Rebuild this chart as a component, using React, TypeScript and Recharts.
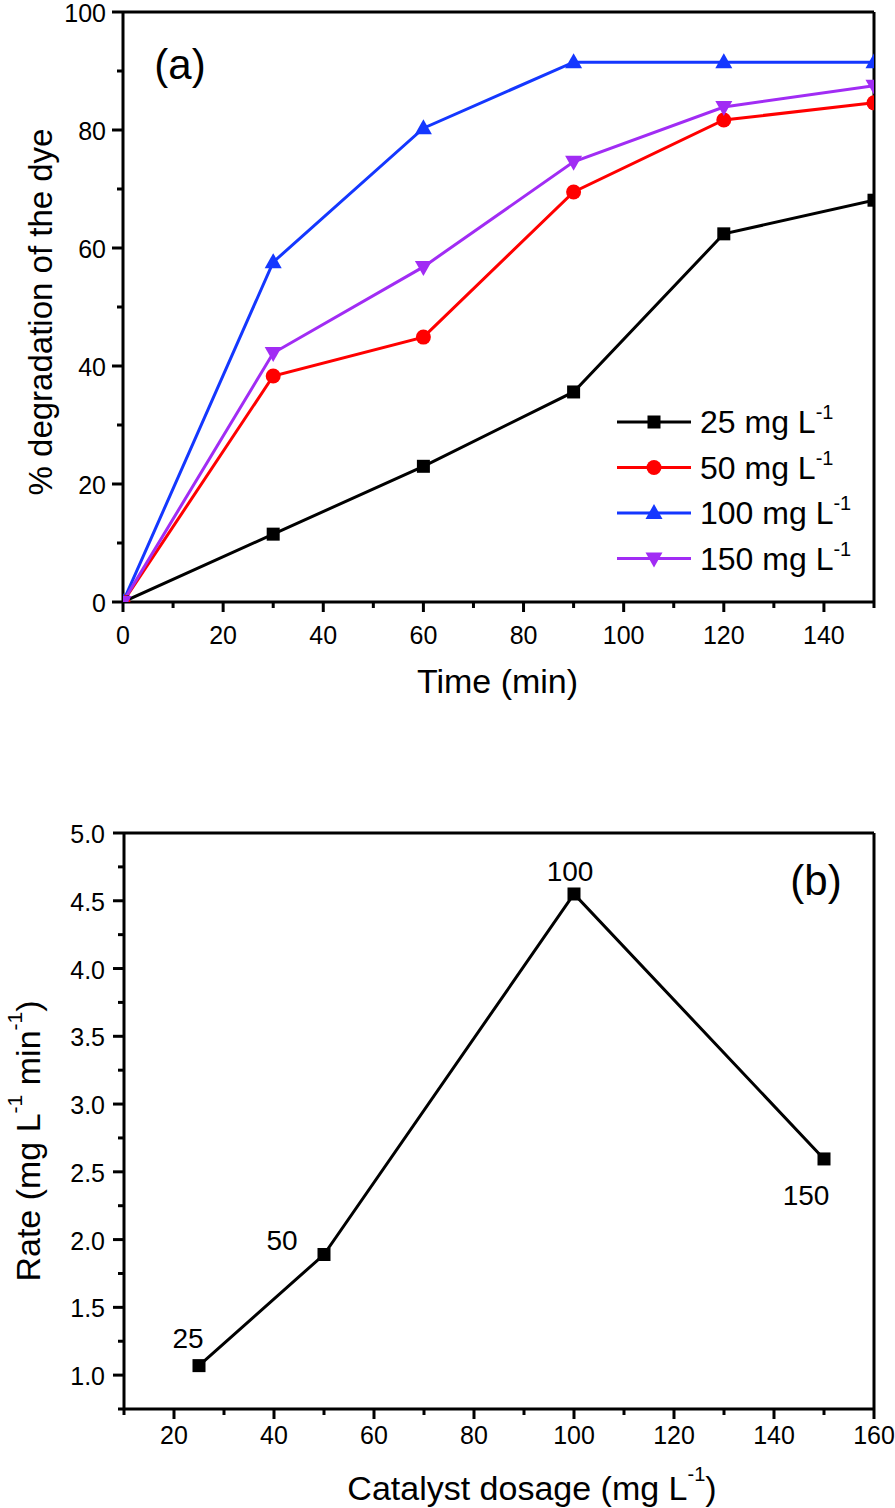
import React from 'react';
import { LineChart, Line, XAxis, YAxis, ReferenceLine, Legend, LabelList, Label } from 'recharts';

// ---------- Data: panel (a) ----------
const timeMin = [0, 30, 60, 90, 120, 150];
const deg25 = [0, 11.5, 23.0, 35.6, 62.4, 68.1];
const deg50 = [0, 38.3, 44.9, 69.5, 81.7, 84.6];
const deg100 = [0, 57.6, 80.3, 91.5, 91.5, 91.5];
const deg150 = [0, 42.2, 56.8, 74.6, 83.9, 87.5];
const seriesLabels = ['25', '50', '100', '150'];

const xMajorA = [0, 20, 40, 60, 80, 100, 120, 140];
const xMinorA = [10, 30, 50, 70, 90, 110, 130, 150];
const yMajorA = [0, 20, 40, 60, 80, 100];
const yMinorA = [10, 30, 50, 70, 90];

// ---------- Data: panel (b) ----------
const dosage = [25, 50, 100, 150];
const rate = [1.07, 1.89, 4.55, 2.595];
const xMajorB = [20, 40, 60, 80, 100, 120, 140, 160];
const xMinorB = [10, 30, 50, 70, 90, 110, 130, 150];
const yMajorB = [1.0, 1.5, 2.0, 2.5, 3.0, 3.5, 4.0, 4.5, 5.0];
const yMinorB = [0.75, 1.25, 1.75, 2.25, 2.75, 3.25, 3.75, 4.25, 4.75];

// ---------- Styles ----------
const FONT = '"Liberation Sans", Arial, Helvetica, sans-serif';
const AX = 3;
const LW = 3;

const seriesA = [
  { key: 'c25', label: seriesLabels[0], values: deg25, color: '#000000', shape: 'square' },
  { key: 'c50', label: seriesLabels[1], values: deg50, color: '#ff0000', shape: 'circle' },
  { key: 'c100', label: seriesLabels[2], values: deg100, color: '#1437ff', shape: 'triangle' },
  { key: 'c150', label: seriesLabels[3], values: deg150, color: '#a12cf4', shape: 'triangleDown' },
];

const rowsA = timeMin.map((t, i) => {
  const row: any = { t };
  seriesA.forEach((s) => (row[s.key] = s.values[i]));
  return row;
});

const rowsB = dosage.map((d, i) => ({ dose: d, rate: rate[i] }));

const labelOffsetsB = [
  [-11, -27],
  [-42, -14],
  [-4, -22],
  [-18, 37],
];

function Marker({ cx, cy, shape, color }: any) {
  if (cx == null || cy == null || isNaN(cx) || isNaN(cy)) return null;
  switch (shape) {
    case 'square':
      return <rect x={cx - 6.5} y={cy - 6.5} width={13} height={13} fill={color} />;
    case 'circle':
      return <circle cx={cx} cy={cy} r={7.5} fill={color} />;
    case 'triangle':
      return <polygon points={`${cx},${cy - 9} ${cx + 8.5},${cy + 6} ${cx - 8.5},${cy + 6}`} fill={color} />;
    case 'triangleDown':
      return <polygon points={`${cx},${cy + 9} ${cx + 8.5},${cy - 6} ${cx - 8.5},${cy - 6}`} fill={color} />;
    default:
      return null;
  }
}

const isIn = (arr: number[], v: number) => arr.some((a) => Math.abs(a - v) < 1e-9);

const makeBottomTick = (majors: number[], labelOffset: number, fmt: (v: number) => string) => (props: any) => {
  const { x, y, payload } = props;
  const v = payload.value;
  const major = isIn(majors, v);
  return (
    <g>
      <line x1={x} x2={x} y1={y} y2={y + (major ? 10 : 6)} stroke="#000" strokeWidth={AX} />
      {major && (
        <text x={x} y={y + labelOffset} textAnchor="middle" dominantBaseline="central" fontSize={25} fill="#000" fontFamily={FONT}>
          {fmt(v)}
        </text>
      )}
    </g>
  );
};

const makeLeftTick = (majors: number[], labelGap: number, fmt: (v: number) => string) => (props: any) => {
  const { x, y, payload } = props;
  const v = payload.value;
  const major = isIn(majors, v);
  return (
    <g>
      <line x1={x} x2={x - (major ? 11 : 6)} y1={y} y2={y} stroke="#000" strokeWidth={AX} />
      {major && (
        <text x={x - labelGap} y={y + 1} textAnchor="end" dominantBaseline="central" fontSize={25} fill="#000" fontFamily={FONT}>
          {fmt(v)}
        </text>
      )}
    </g>
  );
};

const sortNum = (a: number[]) => [...a].sort((p, q) => p - q);

const renderLegendA = (props: any) => {
  const payload = props.payload || [];
  return (
    <svg width={285} height={185} style={{ display: 'block', overflow: 'visible' }}>
      {seriesA.map((s, i) => {
        const entry = payload.find((e: any) => e.dataKey === s.key);
        const color = entry?.color ?? s.color;
        const name = entry?.value ?? s.label;
        const cy = 24 + i * 45.5;
        return (
          <g key={s.key}>
            <line x1={7} x2={81} y1={cy} y2={cy} stroke={color} strokeWidth={LW} />
            <Marker cx={44} cy={cy} shape={s.shape} color={color} />
            <text x={90} y={cy + 11} fontSize={32} fill="#000" fontFamily={FONT}>
              {name} mg L<tspan dy={-14} fontSize={20}>-1</tspan>
            </text>
          </g>
        );
      })}
    </svg>
  );
};

const renderRateLabel = (p: any) => {
  const { x, y, index, value } = p;
  const off = labelOffsetsB[index] || [0, -20];
  return (
    <text x={x + off[0]} y={y + off[1]} textAnchor="middle" dominantBaseline="central" fontSize={28} fill="#000" fontFamily={FONT}>
      {value}
    </text>
  );
};

export default function App() {
  return (
    <div style={{ position: 'absolute', left: 0, top: 0, width: 895, height: 1508, background: '#fff', fontFamily: FONT }}>
      {/* Panel (a) */}
      <div style={{ position: 'absolute', left: 0, top: 0 }}>
        <LineChart width={895} height={720} data={rowsA} margin={{ top: 12, right: 21, bottom: 0, left: 0 }}>
          <XAxis
            dataKey="t"
            type="number"
            domain={[0, 150]}
            allowDataOverflow
            ticks={sortNum([...xMajorA, ...xMinorA])}
            interval={0}
            tickSize={0}
            tickMargin={0}
            tickLine={false}
            axisLine={{ stroke: '#000', strokeWidth: AX }}
            height={118}
            tick={makeBottomTick(xMajorA, 33, (v) => String(v))}
          >
            <Label
              content={(p: any) => {
                const vb = p.viewBox || { x: 123, y: 602, width: 751 };
                return (
                  <text x={vb.x + vb.width / 2 - 1} y={vb.y + 79} textAnchor="middle" dominantBaseline="central" fontSize={34} fill="#000" fontFamily={FONT}>
                    Time (min)
                  </text>
                );
              }}
            />
          </XAxis>
          <YAxis
            type="number"
            domain={[0, 100]}
            allowDataOverflow
            ticks={sortNum([...yMajorA, ...yMinorA])}
            interval={0}
            tickSize={0}
            tickMargin={0}
            tickLine={false}
            axisLine={{ stroke: '#000', strokeWidth: AX }}
            width={123}
            tick={makeLeftTick(yMajorA, 17, (v) => String(v))}
          >
            <Label
              content={(p: any) => {
                const vb = p.viewBox || { x: 0, y: 12, width: 123, height: 590 };
                const cx = 40;
                const cy = vb.y + vb.height / 2 + 5;
                return (
                  <text x={cx} y={cy} transform={`rotate(-90 ${cx} ${cy})`} textAnchor="middle" dominantBaseline="central" fontSize={33} fill="#000" fontFamily={FONT}>
                    % degradation of the dye
                  </text>
                );
              }}
            />
          </YAxis>
          <ReferenceLine y={100} stroke="#000" strokeWidth={AX}>
            <Label
              content={(p: any) => {
                const vb = p.viewBox || { x: 123, y: 12 };
                return (
                  <text x={vb.x + 57} y={vb.y + 52} textAnchor="middle" dominantBaseline="central" fontSize={42} fill="#000" fontFamily={FONT}>
                    (a)
                  </text>
                );
              }}
            />
          </ReferenceLine>
          <ReferenceLine x={150} stroke="#000" strokeWidth={AX} />
          {seriesA.map((s) => (
            <Line
              key={s.key}
              type="linear"
              dataKey={s.key}
              name={s.label}
              stroke={s.color}
              strokeWidth={LW}
              isAnimationActive={false}
              activeDot={false}
              dot={(p: any) => <Marker key={`${s.key}-${p.index}`} cx={p.cx} cy={p.cy} shape={s.shape} color={s.color} />}
            />
          ))}
          <Legend
            layout="vertical"
            align="center"
            verticalAlign="middle"
            content={renderLegendA}
            wrapperStyle={{ left: 610, top: 398, width: 285, height: 185 }}
          />
        </LineChart>
      </div>

      {/* Panel (b) */}
      <div style={{ position: 'absolute', left: 0, top: 760 }}>
        <LineChart width={895} height={748} data={rowsB} margin={{ top: 73, right: 21, bottom: 0, left: 0 }}>
          <XAxis
            dataKey="dose"
            type="number"
            domain={[10, 160]}
            allowDataOverflow
            ticks={sortNum([...xMajorB, ...xMinorB])}
            interval={0}
            tickSize={0}
            tickMargin={0}
            tickLine={false}
            axisLine={{ stroke: '#000', strokeWidth: AX }}
            height={99}
            tick={makeBottomTick(xMajorB, 26, (v) => String(v))}
          >
            <Label
              content={(p: any) => {
                const vb = p.viewBox || { x: 124, y: 649, width: 750 };
                return (
                  <text x={vb.x + vb.width / 2 + 33} y={vb.y + 79} textAnchor="middle" dominantBaseline="central" fontSize={34} fill="#000" fontFamily={FONT}>
                    Catalyst dosage (mg L<tspan dy={-14} fontSize={20}>-1</tspan>
                    <tspan dy={14}>)</tspan>
                  </text>
                );
              }}
            />
          </XAxis>
          <YAxis
            type="number"
            domain={[0.75, 5]}
            allowDataOverflow
            ticks={sortNum([...yMajorB, ...yMinorB])}
            interval={0}
            tickSize={0}
            tickMargin={0}
            tickLine={false}
            axisLine={{ stroke: '#000', strokeWidth: AX }}
            width={124}
            tick={makeLeftTick(yMajorB, 19, (v) => v.toFixed(1))}
          >
            <Label
              content={(p: any) => {
                const vb = p.viewBox || { x: 0, y: 73, width: 124, height: 576 };
                const cx = 28;
                const cy = vb.y + vb.height / 2 + 20;
                return (
                  <text x={cx} y={cy} transform={`rotate(-90 ${cx} ${cy})`} textAnchor="middle" dominantBaseline="central" fontSize={34} fill="#000" fontFamily={FONT}>
                    Rate (mg L<tspan dy={-14} fontSize={21}>-1</tspan>
                    <tspan dy={14}> min</tspan>
                    <tspan dy={-14} fontSize={21}>-1</tspan>
                    <tspan dy={14}>)</tspan>
                  </text>
                );
              }}
            />
          </YAxis>
          <ReferenceLine y={5} stroke="#000" strokeWidth={AX}>
            <Label
              content={(p: any) => {
                const vb = p.viewBox || { x: 124, y: 73, width: 750 };
                return (
                  <text x={vb.x + vb.width - 58} y={vb.y + 47} textAnchor="middle" dominantBaseline="central" fontSize={42} fill="#000" fontFamily={FONT}>
                    (b)
                  </text>
                );
              }}
            />
          </ReferenceLine>
          <ReferenceLine x={160} stroke="#000" strokeWidth={AX} />
          <Line
            type="linear"
            dataKey="rate"
            stroke="#000"
            strokeWidth={LW}
            isAnimationActive={false}
            activeDot={false}
            dot={(p: any) => <Marker key={`r-${p.index}`} cx={p.cx} cy={p.cy} shape="square" color="#000" />}
          >
            <LabelList dataKey="dose" content={renderRateLabel} />
          </Line>
        </LineChart>
      </div>
    </div>
  );
}
